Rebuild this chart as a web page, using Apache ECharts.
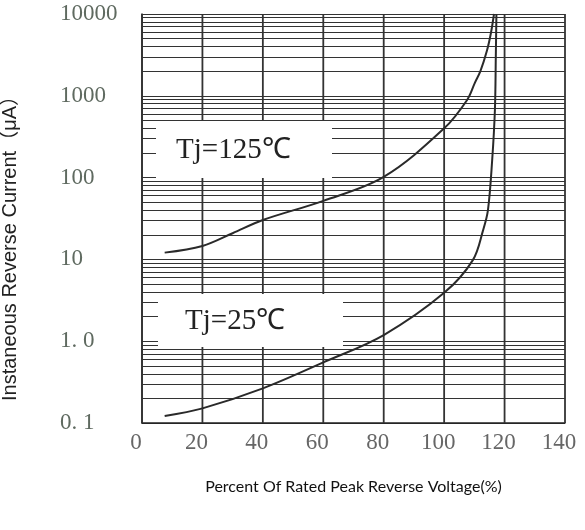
<!DOCTYPE html>
<html>
<head>
<meta charset="utf-8">
<script src="https://cdn.jsdelivr.net/npm/echarts@6/dist/echarts.min.js"></script>
<style>
  html, body { margin: 0; padding: 0; background: #fff; }
  #chart { width: 585px; height: 530px; }
</style>
</head>
<body>
<div id="chart"></div>
<script>
// Reverse leakage current vs. percent of rated peak reverse voltage
const xTicks = [0, 20, 40, 60, 80, 100, 120, 140];
const yTickLabels = ['0. 1', '1. 0', '10', '100', '1000', '10000'];

// [percent of rated voltage, current in µA]
const tj125 = [
  [7.5, 12.1], [20, 14.6], [30, 20.9], [40, 30.3], [60, 52], [80, 102],
  [100, 400], [107.6, 890], [110.2, 1450], [112, 2000], [114.2, 3600],
  [115.5, 5900], [116.5, 10000]
];
const tj25 = [
  [7.5, 0.122], [20, 0.151], [40, 0.265], [60, 0.55], [80, 1.19],
  [100, 3.9], [109.5, 9.8], [112.9, 22.8], [114.5, 40], [115.9, 164],
  [116.8, 670], [117.1, 3000], [117.3, 10000]
];

// log grid: minor lines at 2..9 of every decade
const decades = [0.1, 1, 10, 100, 1000];
const minorGrid = [];
decades.forEach(d => { for (let k = 2; k <= 9; k++) minorGrid.push(+(d * k).toPrecision(3)); });

const gridColor = '#333';
const serif = '"Liberation Serif", "DejaVu Serif", serif';

// vertical grid lines, one per x tick, spanning the full current range
const verticalGrid = xTicks.map(x => ({
  type: 'line', data: [[x, 0.1], [x, 10000]], silent: true, showSymbol: false,
  lineStyle: { color: '#333', width: 1.8 }, z: 1, animation: false
}));

const chart = echarts.init(document.getElementById('chart'));

chart.setOption({
  animation: false,
  backgroundColor: '#fff',
  grid: { left: 142, right: 20, top: 14, bottom: 107, show: false, containLabel: false, outerBoundsMode: 'none' },
  xAxis: {
    type: 'value', min: 0, max: 140, interval: 20,
    axisLine: { show: true, onZero: false, lineStyle: { color: '#222', width: 1.5 } },
    axisTick: { show: false },
    splitLine: { show: false },
    axisLabel: {
      margin: 8, fontFamily: serif, fontSize: 23, color: '#666',
      padding: [0, 12, 0, 0],
      formatter: v => String(xTicks[xTicks.indexOf(v)])
    },
    name: 'Percent Of Rated Peak Reverse Voltage(%)',
    nameLocation: 'middle', nameGap: 56,
    nameTextStyle: { fontFamily: 'Lato, "Open Sans", sans-serif', fontSize: 16, color: '#111' }
  },
  yAxis: {
    type: 'log', logBase: 10, min: 0.1, max: 10000,
    axisLine: { show: true, lineStyle: { color: '#222', width: 1.5 } },
    axisTick: { show: false },
    splitLine: { show: true, lineStyle: { color: gridColor, width: 1 } },
    axisLabel: {
      margin: 82, align: 'left', fontFamily: serif, fontSize: 23, color: '#5f6a60',
      formatter: v => yTickLabels[Math.round(Math.log10(v)) + 1]
    },
    name: 'Instaneous Reverse Current（μA）',
    nameLocation: 'middle', nameGap: 122, nameRotate: 90,
    nameTextStyle: {
      fontFamily: '"Liberation Sans", Arial, "Noto Sans CJK SC", sans-serif',
      fontSize: 20, color: '#222', padding: [0, 50, 0, 0]
    }
  },
  series: [
    {
      name: 'grid', type: 'line', data: [], silent: true,
      markLine: {
        silent: true, symbol: 'none', animation: false,
        label: { show: false },
        lineStyle: { color: gridColor, width: 1, type: 'solid' },
        emphasis: { disabled: true },
        data: minorGrid.map(v => ({ yAxis: v })).concat([{ yAxis: 10000 }])
      }
    },
    ...verticalGrid,
    {
      name: 'Tj=125℃', type: 'line', data: tj125, smooth: 0.35, showSymbol: false,
      lineStyle: { color: '#2a2a2a', width: 2 }, z: 5
    },
    {
      name: 'Tj=25℃', type: 'line', data: tj25, smooth: 0.35, showSymbol: false,
      lineStyle: { color: '#2a2a2a', width: 2 }, z: 5
    }
  ],
  graphic: [
    { type: 'rect', z: 50, shape: { x: 156, y: 121, width: 176, height: 57 }, style: { fill: '#fff' } },
    { type: 'text', z: 51, x: 176, y: 150, style: { text: 'Tj=125℃', font: '29px "Liberation Serif", serif', fill: '#222', textVerticalAlign: 'middle' } },
    { type: 'rect', z: 50, shape: { x: 158, y: 294, width: 185, height: 53 }, style: { fill: '#fff' } },
    { type: 'text', z: 51, x: 185, y: 321, style: { text: 'Tj=25℃', font: '29px "Liberation Serif", serif', fill: '#222', textVerticalAlign: 'middle' } }
  ]
});
</script>
</body>
</html>
